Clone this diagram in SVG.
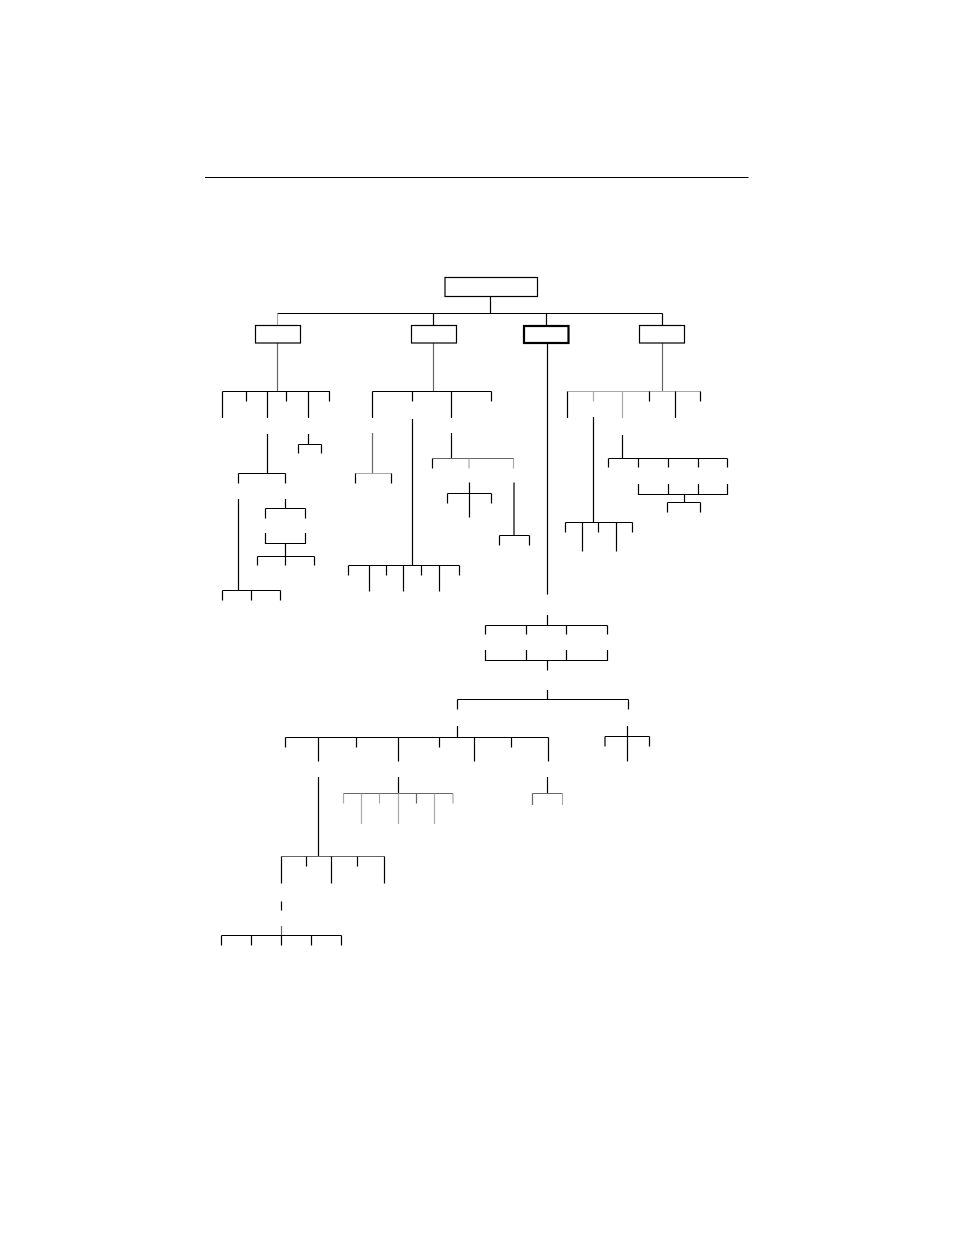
<svg xmlns="http://www.w3.org/2000/svg" width="954" height="1235" viewBox="0 0 954 1235">
<style>
.n{fill:#fff;stroke:#000;stroke-width:1.2}
.b{fill:#fff;stroke:#000;stroke-width:2.2}
#connectors path{fill:none;stroke:#000;stroke-width:1.2}
#connectors path.g{stroke:#666}
#connectors path.lg{stroke:#aaa}
</style>
<rect width="954" height="1235" fill="#fff"/>
<line x1="205" y1="177.5" x2="748.5" y2="177.5" stroke="#000" stroke-width="1.2"/>
<g id="connectors">
<path d="M490.5 296V313.5M277.5 313.5H662.5M433.5 313.5V325M546.5 313.5V325M662.5 313.5V325"/>
<path class="lg" d="M277.5 313.5V325"/>
<!-- branch 1 -->
<path class="g" d="M277.5 343V391.5"/>
<path d="M222.5 391.5H330M222.5 391.5V418M246.5 391.5V401.5M267.5 391.5V418M286.5 391.5V401.5M308.5 391.5V418M329.5 391.5V401.5"/>
<path d="M267.5 434V473.5M238.5 473.5H285.5M238.5 473.5V483.5M285.5 473.5V483.5"/>
<path d="M308.5 434V444.5M298.5 444.5H321.5M298.5 444.5V453.5M321.5 444.5V453.5"/>
<path d="M238.5 499V590.5M222.5 590.5H280.5M222.5 590.5V600.5M251.5 590.5V600.5M280.5 590.5V600.5"/>
<path d="M285.5 499V508.5M265.5 508.5H305.5M265.5 508.5V518.5M305.5 508.5V518.5"/>
<path d="M265.5 533V543.5H305.5V533M285.5 543.5V556.5M257.5 556.5H314.5M257.5 556.5V565.5M285.5 556.5V565.5M314.5 556.5V565.5"/>
<!-- branch 2 -->
<path class="g" d="M433.5 343V391.5"/>
<path d="M372.5 391.5H491.5M372.5 391.5V418M412.5 391.5V401.5M451.5 391.5V418M491.5 391.5V401.5"/>
<path class="g" d="M372.5 433V473.5"/>
<path class="lg" d="M355.5 473.5H391.5"/>
<path d="M355.5 473.5V483.5M391.5 473.5V483.5"/>
<path d="M412.5 419V565.5M348.5 565.5H459.5M348.5 565.5V575.5M369.5 565.5V591.5M386.5 565.5V575.5M403.5 565.5V591.5M421.5 565.5V575.5M439.5 565.5V591.5M459.5 565.5V575.5"/>
<path d="M451.5 433V458.5"/>
<path class="g" d="M432.5 458.5H514"/>
<path d="M432.5 458.5V468.5"/>
<path class="lg" d="M469 458.5V468.5M513.5 458.5V468.5"/>
<path d="M469.5 482.5V517.5M447.5 493.5H491.5M447.5 493.5V503.5M491.5 493.5V503.5"/>
<path d="M514 482.5V535.5M499.5 535.5H529.5M499.5 535.5V545.5M529.5 535.5V545.5"/>
<!-- branch 3 -->
<path d="M547.5 343V594.5M547.5 615V625.5M485.5 625.5H607.5M485.5 625.5V634.5M526.5 625.5V634.5M566.5 625.5V634.5M607.5 625.5V634.5"/>
<path d="M485.5 650V660.5H607.5V650M526.5 650V660.5M566.5 650V660.5M547.5 660.5V670.5"/>
<path d="M547.5 690V699.5M457.5 699.5H628.5M457.5 699.5V709.5M628.5 699.5V709.5"/>
<path d="M457.5 726V737.5M285.5 737.5H548.5M285.5 737.5V747.5M318.5 737.5V761.5M356.5 737.5V747.5M398.5 737.5V761.5M439.5 737.5V747.5M474.5 737.5V761.5M511.5 737.5V747.5M548.5 737.5V761.5"/>
<path d="M627.5 726V761.5M605 736.5H649.5M605 736.5V746.5M649.5 736.5V746.5"/>
<path d="M318.5 777V856.5"/>
<path class="g" d="M281.5 856.5H384.5"/>
<path d="M281.5 856.5V883.5M306.5 856.5V866.5M331.5 856.5V883.5M357.5 856.5V866.5M384.5 856.5V883.5"/>
<path d="M281.5 901.5V910.5"/>
<path class="g" d="M281.5 926V935"/>
<path d="M221.5 935.5H341.5M221.5 935.5V945.5M251.5 935.5V945.5M281.5 935.5V945.5M311.5 935.5V945.5M341.5 935.5V945.5"/>
<path d="M398.5 777V793.5"/>
<path class="g" d="M343.5 793.5H453"/>
<path class="lg" d="M343.5 793.5V803.5M361.5 793.5V824M379.5 793.5V803.5M398.5 793.5V824M434.5 793.5V824M453 793.5V803.5"/>
<path class="g" d="M416.5 793.5V803.5"/>
<path d="M547.5 777V793.5"/>
<path class="g" d="M532.5 793.5H562.5M532.5 793.5V805"/>
<path class="lg" d="M562.5 793.5V805"/>
<!-- branch 4 -->
<path class="g" d="M662.5 343V391.5"/>
<path class="lg" d="M567.5 391.5H700.5M593.5 391.5V401.5M622.5 391.5V418"/>
<path d="M567.5 391.5V418M649.5 391.5V401.5M675.5 391.5V418M700.5 391.5V401.5"/>
<path d="M593.5 417V522.5M565.5 522.5H632.5M565.5 522.5V532.5M582.5 522.5V551.5M598.5 522.5V532.5M616.5 522.5V551.5M632.5 522.5V532.5"/>
<path d="M622.5 435V458.5M608.5 458.5H727.5M608.5 458.5V467.5M638.5 458.5V467.5M668.5 458.5V467.5M698.5 458.5V467.5M727.5 458.5V467.5"/>
<path d="M638.5 484V494.5H727.5V484M668.5 484V494.5M698.5 484V494.5M684.5 494.5V502.5M667.5 502.5H700.5M667.5 502.5V512.5M700.5 502.5V512.5"/>
</g>
<g id="node-root"><rect class="n" x="445" y="277.5" width="92.5" height="19"/></g>
<g id="node-a"><rect class="n" x="255.5" y="325.5" width="45" height="17.5"/></g>
<g id="node-b"><rect class="n" x="411.5" y="325.5" width="45" height="17.5"/></g>
<g id="node-c"><rect class="b" x="524" y="326" width="44.5" height="17"/></g>
<g id="node-d"><rect class="n" x="639.5" y="325.5" width="45" height="17.5"/></g>
</svg>
